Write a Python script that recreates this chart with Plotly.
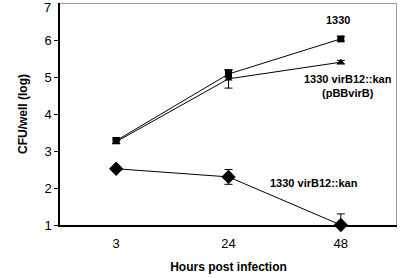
import plotly.graph_objects as go

hours = ["3", "24", "48"]
s1330 = [3.28, 5.08, 6.03]
s1330_err = [0.08, 0.1, 0.06]
s_comp = [3.25, 4.95, 5.4]
s_comp_err = [0.05, 0.25, 0.05]
s_kan = [2.52, 2.3, 1.0]
s_kan_err = [0.05, 0.2, 0.3]
y_ticks = [1, 2, 3, 4, 5, 6, 7]

xpos = list(range(len(hours)))
font = "Liberation Sans, Arial, sans-serif"
fig = go.Figure()

# grey frame on top and right (axis-box edges)
fig.add_trace(go.Scatter(x=[-0.5, 2.5, 2.5], y=[7, 7, 1], mode="lines",
                         line=dict(color="#808080", width=1.5),
                         showlegend=False, hoverinfo="skip", cliponaxis=False))

def add(y, err, symbol, size):
    fig.add_trace(go.Scatter(
        x=xpos, y=y, mode="lines+markers",
        line=dict(color="black", width=1),
        marker=dict(symbol=symbol, size=size, color="black"),
        error_y=dict(type="data", array=err, color="black", thickness=1, width=4),
        showlegend=False, cliponaxis=False))

add(s1330, s1330_err, "square", 7)
add(s_comp, s_comp_err, "triangle-up", 7)
add(s_kan, s_kan_err, "diamond", 11)

ann = dict(xref="x", yref="y", showarrow=False, font=dict(family=font, size=11, color="black"))
fig.add_annotation(x=2, y=6.55, text="<b>1330</b>", xshift=-3, **ann)
fig.add_annotation(x=2, y=4.75, text="<b>1330 virB12::kan<br>(pBBvirB)</b>", xshift=7, **ann)
fig.add_annotation(x=1.76, y=2.13, text="<b>1330 virB12::kan</b>", **ann)
# top tick label placed as annotation so it is not hidden at the edge
fig.add_annotation(x=0, xref="paper", y=y_ticks[-1], yref="y", text=str(y_ticks[-1]),
                   showarrow=False, xanchor="right", yanchor="top", xshift=-7, yshift=5,
                   font=dict(family=font, size=13, color="black"))

fig.update_layout(
    width=400, height=278,
    margin=dict(l=60, r=3, t=3, b=53, autoexpand=False),
    plot_bgcolor="white", paper_bgcolor="white",
    font=dict(family=font, size=13, color="black"),
    xaxis=dict(range=[-0.5, 2.5], tickvals=xpos, ticktext=hours, showgrid=False, zeroline=False,
               showline=True, linecolor="black", linewidth=1.5, ticks="",
               ticklabelstandoff=6, automargin=False,
               title=dict(text="<b>Hours post infection</b>", font=dict(size=12), standoff=12)),
    yaxis=dict(range=[1, 7], tickvals=y_ticks[:-1], showgrid=False, zeroline=False,
               showline=True, linecolor="black", linewidth=1.5, automargin=False,
               ticks="outside", ticklen=4, tickcolor="black",
               title=dict(text="<b>CFU/well (log)</b>", font=dict(size=12), standoff=14)),
)

fig.write_html("out.html", config={"displayModeBar": False},
               post_script="document.body.style.margin='0px';")
